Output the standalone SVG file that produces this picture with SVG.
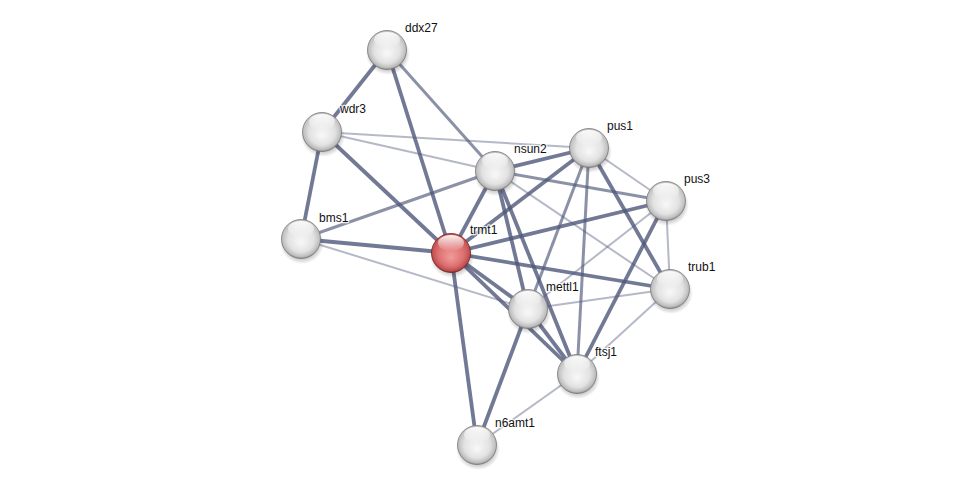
<svg xmlns="http://www.w3.org/2000/svg" width="975" height="490" viewBox="0 0 975 490">
<defs>
<radialGradient id="gGrey" cx="50%" cy="45%" r="55%" fx="50%" fy="60%">
<stop offset="0" stop-color="#f8f8f8"/>
<stop offset="0.6" stop-color="#e2e2e2"/>
<stop offset="0.88" stop-color="#bdbdbd"/>
<stop offset="1" stop-color="#8c8c8c"/>
</radialGradient>
<radialGradient id="gRed" cx="50%" cy="45%" r="55%" fx="50%" fy="62%">
<stop offset="0" stop-color="#f29a9a"/>
<stop offset="0.6" stop-color="#dc7070"/>
<stop offset="0.88" stop-color="#bf4f4f"/>
<stop offset="1" stop-color="#8a2a2a"/>
</radialGradient>
<linearGradient id="gHi" x1="0" y1="0" x2="0" y2="1">
<stop offset="0" stop-color="#ffffff" stop-opacity="0.95"/>
<stop offset="1" stop-color="#ffffff" stop-opacity="0"/>
</linearGradient>
<radialGradient id="gShadow" cx="50%" cy="50%" r="50%">
<stop offset="0.7" stop-color="#000" stop-opacity="0.25"/>
<stop offset="1" stop-color="#000" stop-opacity="0"/>
</radialGradient>
</defs>
<style>
.e{stroke:#4f587a;stroke-linecap:butt;fill:none}
.a{stroke-width:3.8;stroke-opacity:0.8}
.b{stroke-width:3;stroke-opacity:0.66}
.c{stroke-width:2;stroke-opacity:0.42}
.sh{fill:url(#gShadow)}
.n{fill:url(#gGrey);stroke:#7a7a7a;stroke-width:0.8}
.r{fill:url(#gRed);stroke:#7a2020;stroke-width:0.8}
.hi{fill:url(#gHi)}
.l{font-family:"Liberation Sans",Arial,sans-serif;font-size:12px;fill:#111;stroke:#fff;stroke-width:2.5;stroke-opacity:0.8;paint-order:stroke;stroke-linejoin:round}
</style>
<rect width="975" height="490" fill="#ffffff"/>
<g id="edges">
<line class="e c" x1="322" y1="132" x2="495" y2="171"/>
<line class="e c" x1="322" y1="132" x2="589" y2="148"/>
<line class="e c" x1="301" y1="239" x2="528" y2="309"/>
<line class="e c" x1="495" y1="171" x2="670" y2="289"/>
<line class="e c" x1="589" y1="148" x2="666" y2="201"/>
<line class="e c" x1="666" y1="201" x2="670" y2="289"/>
<line class="e c" x1="666" y1="201" x2="528" y2="309"/>
<line class="e c" x1="670" y1="289" x2="528" y2="309"/>
<line class="e c" x1="670" y1="289" x2="577" y2="374"/>
<line class="e c" x1="577" y1="374" x2="477" y2="445"/>
<line class="e b" x1="301" y1="239" x2="495" y2="171"/>
<line class="e b" x1="387" y1="50" x2="495" y2="171"/>
<line class="e b" x1="495" y1="171" x2="666" y2="201"/>
<line class="e b" x1="589" y1="148" x2="528" y2="309"/>
<line class="e b" x1="589" y1="148" x2="577" y2="374"/>
<line class="e a" x1="387" y1="50" x2="322" y2="132"/>
<line class="e a" x1="387" y1="50" x2="451" y2="253"/>
<line class="e a" x1="322" y1="132" x2="301" y2="239"/>
<line class="e a" x1="322" y1="132" x2="451" y2="253"/>
<line class="e a" x1="301" y1="239" x2="451" y2="253"/>
<line class="e a" x1="451" y1="253" x2="495" y2="171"/>
<line class="e a" x1="451" y1="253" x2="589" y2="148"/>
<line class="e a" x1="451" y1="253" x2="666" y2="201"/>
<line class="e a" x1="451" y1="253" x2="670" y2="289"/>
<line class="e a" x1="451" y1="253" x2="528" y2="309"/>
<line class="e a" x1="451" y1="253" x2="577" y2="374"/>
<line class="e a" x1="451" y1="253" x2="477" y2="445"/>
<line class="e a" x1="495" y1="171" x2="589" y2="148"/>
<line class="e a" x1="495" y1="171" x2="528" y2="309"/>
<line class="e a" x1="495" y1="171" x2="577" y2="374"/>
<line class="e a" x1="589" y1="148" x2="670" y2="289"/>
<line class="e a" x1="666" y1="201" x2="577" y2="374"/>
<line class="e a" x1="528" y1="309" x2="577" y2="374"/>
<line class="e a" x1="528" y1="309" x2="477" y2="445"/>
</g>
<g id="ddx27"><ellipse class="sh" cx="388" cy="54" rx="22" ry="21"/><circle class="n" cx="387" cy="50" r="19.5"/><ellipse class="hi" cx="387" cy="40" rx="13" ry="8"/><text class="l" x="405" y="32">ddx27</text></g>
<g id="wdr3"><ellipse class="sh" cx="323" cy="136" rx="22" ry="21"/><circle class="n" cx="322" cy="132" r="19.5"/><ellipse class="hi" cx="322" cy="122" rx="13" ry="8"/><text class="l" x="340" y="113">wdr3</text></g>
<g id="bms1"><ellipse class="sh" cx="302" cy="243" rx="22" ry="21"/><circle class="n" cx="301" cy="239" r="19.5"/><ellipse class="hi" cx="301" cy="229" rx="13" ry="8"/><text class="l" x="319" y="222">bms1</text></g>
<g id="nsun2"><ellipse class="sh" cx="496" cy="175" rx="22" ry="21"/><circle class="n" cx="495" cy="171" r="19.5"/><ellipse class="hi" cx="495" cy="161" rx="13" ry="8"/><text class="l" x="514" y="153">nsun2</text></g>
<g id="pus1"><ellipse class="sh" cx="590" cy="152" rx="22" ry="21"/><circle class="n" cx="589" cy="148" r="19.5"/><ellipse class="hi" cx="589" cy="138" rx="13" ry="8"/><text class="l" x="607" y="130">pus1</text></g>
<g id="pus3"><ellipse class="sh" cx="667" cy="205" rx="22" ry="21"/><circle class="n" cx="666" cy="201" r="19.5"/><ellipse class="hi" cx="666" cy="191" rx="13" ry="8"/><text class="l" x="684" y="183">pus3</text></g>
<g id="trub1"><ellipse class="sh" cx="671" cy="293" rx="22" ry="21"/><circle class="n" cx="670" cy="289" r="19.5"/><ellipse class="hi" cx="670" cy="279" rx="13" ry="8"/><text class="l" x="688" y="271">trub1</text></g>
<g id="mettl1"><ellipse class="sh" cx="529" cy="313" rx="22" ry="21"/><circle class="n" cx="528" cy="309" r="19.5"/><ellipse class="hi" cx="528" cy="299" rx="13" ry="8"/><text class="l" x="546" y="291">mettl1</text></g>
<g id="ftsj1"><ellipse class="sh" cx="578" cy="378" rx="22" ry="21"/><circle class="n" cx="577" cy="374" r="19.5"/><ellipse class="hi" cx="577" cy="364" rx="13" ry="8"/><text class="l" x="595" y="356">ftsj1</text></g>
<g id="n6amt1"><ellipse class="sh" cx="478" cy="449" rx="22" ry="21"/><circle class="n" cx="477" cy="445" r="19.5"/><ellipse class="hi" cx="477" cy="435" rx="13" ry="8"/><text class="l" x="495" y="427">n6amt1</text></g>
<g id="trmt1"><ellipse class="sh" cx="452" cy="257" rx="22" ry="21"/><circle class="r" cx="451" cy="253" r="19.5"/><ellipse class="hi" cx="451" cy="243" rx="13" ry="8"/><text class="l" x="470" y="234">trmt1</text></g>
</svg>
